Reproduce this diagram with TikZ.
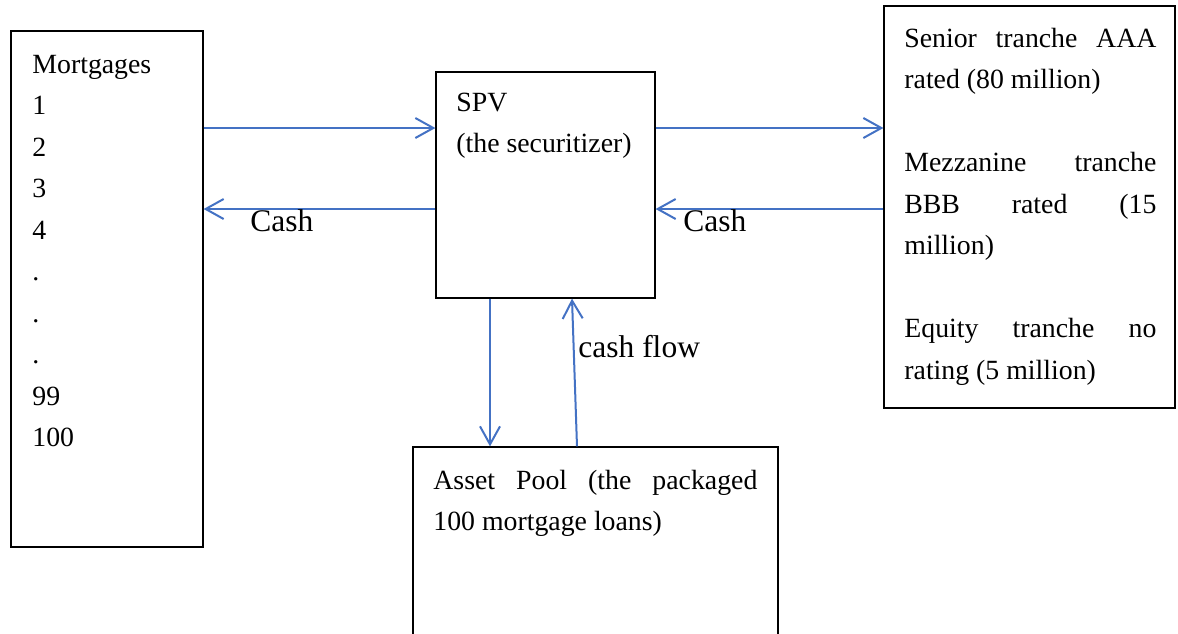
\documentclass[tikz,border=0pt]{standalone}
\usepackage{fontspec}
\setmainfont{Liberation Serif}
\usetikzlibrary{arrows.meta}
\definecolor{flowblue}{HTML}{4472C4}
\tikzset{
  box/.style={draw=black, line width=0.6pt, inner sep=0pt, rectangle},
  txt/.style={anchor=north west, inner sep=0pt, align=left,
    font=\fontsize{13.9pt}{20.75pt}\selectfont},
  lbl/.style={anchor=base west, inner sep=0pt,
    font=\fontsize{15.75pt}{18pt}\selectfont},
  flow/.style={draw=flowblue, line width=1pt,
    -{Straight Barb[length=9pt,width=10pt]}},
}
\newcommand\jline[2]{\makebox[#1][s]{#2}}
\begin{document}
\begin{tikzpicture}[x=0.5pt, y=-0.5pt]
  \useasboundingbox (0,0) rectangle (1178,633);

  % boxes
  \node[box, minimum width=96pt, minimum height=258pt] (mort) at (107,289) {};
  \node[box, minimum width=109.5pt, minimum height=113pt] (spv) at (545.5,185) {};
  \node[box, minimum width=145.5pt, minimum height=201pt] (tranches) at (1029.5,207) {};
  \node[box, minimum width=182.5pt, minimum height=116.5pt] (pool) at (595.5,563.5) {};

  % box texts
  \node[txt] (morttxt) at (32,44) {\strut Mortgages\\1\\2\\3\\4\\.\\.\\.\\99\\100};
  \node[txt] (spvtxt) at (456,82) {\strut SPV\\(the securitizer)};
  \node[txt] (trtxt) at (904,18) {\strut\jline{126pt}{Senior tranche AAA}\\
    rated (80 million)\\ \mbox{}\\
    \jline{126pt}{Mezzanine tranche}\\
    \jline{126pt}{BBB rated (15}\\
    million)\\ \mbox{}\\
    \jline{126pt}{Equity tranche no}\\
    rating (5 million)};
  \node[txt] (pooltxt) at (433,460) {\strut\jline{162pt}{Asset Pool (the packaged}\\
    100 mortgage loans)};

  % connector rows and columns
  \coordinate (rowA) at (0,128);
  \coordinate (rowB) at (0,209);
  \coordinate (colA) at (490,0);
  \coordinate (colB) at (577,0);
  \coordinate (colC) at (572,0);

  % connectors
  \draw[flow] (mort.east |- rowA) -- (spv.west |- rowA);
  \draw[flow] (spv.west |- rowB) -- (mort.east |- rowB);
  \draw[flow] (spv.east |- rowA) -- (tranches.west |- rowA);
  \draw[flow] (tranches.west |- rowB) -- (spv.east |- rowB);
  \draw[flow] (spv.south -| colA) -- (pool.north -| colA);
  \draw[flow] (pool.north -| colB) -- (spv.south -| colC);

  % connector labels
  \node[lbl] (cashL) at (250,231) {Cash};
  \node[lbl] (cashR) at (683,231) {Cash};
  \node[lbl] (cflow) at (578,357) {cash flow};
\end{tikzpicture}
\end{document}
